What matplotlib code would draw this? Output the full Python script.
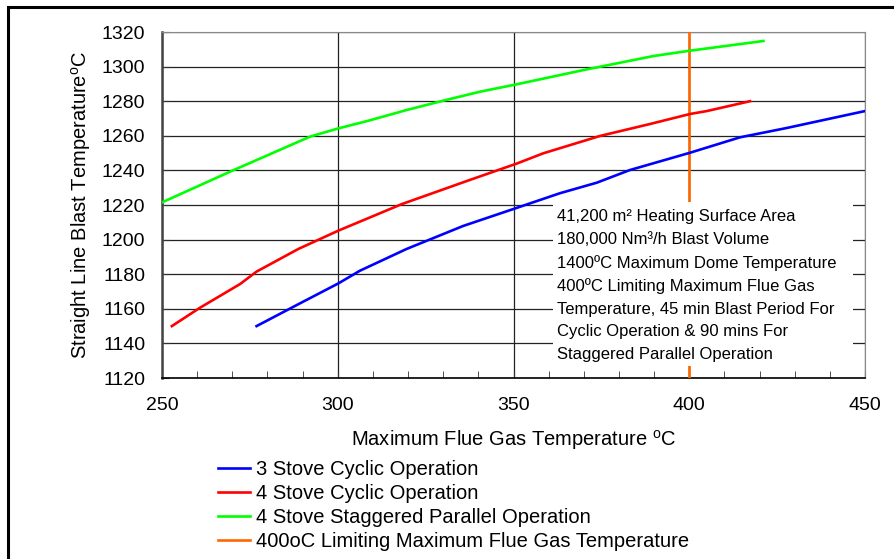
import matplotlib
matplotlib.use("Agg")
import matplotlib.pyplot as plt
from matplotlib.patches import Rectangle

plt.rcParams['font.family'] = ['Liberation Sans', 'DejaVu Sans']
plt.rcParams['mathtext.fontset'] = 'custom'
plt.rcParams['mathtext.rm'] = 'Liberation Sans'
plt.rcParams['mathtext.default'] = 'regular'

x_3cyc = [276.9, 289.3, 300.2, 306.3, 319.6, 335.7, 350.0, 363.2, 373.7, 383.1, 400.2, 414.4, 427.7, 450.0]
y_3cyc = [1150.0, 1163.2, 1174.7, 1182.0, 1194.6, 1207.9, 1217.7, 1226.8, 1232.9, 1240.2, 1250.2, 1259.1, 1264.5, 1274.3]

x_4cyc = [252.8, 260.8, 272.2, 276.9, 288.8, 300.2, 318.2, 337.6, 351.0, 358.5, 374.6, 388.8, 400.2, 405.0, 417.3]
y_4cyc = [1150.0, 1160.6, 1174.3, 1181.5, 1194.6, 1205.2, 1220.5, 1234.5, 1244.0, 1249.9, 1259.9, 1266.8, 1272.6, 1274.3, 1280.0]

x_4par = [250.0, 269.3, 292.1, 300.2, 308.7, 319.6, 330.0, 340.5, 351.0, 369.9, 389.8, 400.2, 421.1]
y_4par = [1221.5, 1239.2, 1259.5, 1264.3, 1268.7, 1274.9, 1280.3, 1285.5, 1289.8, 1298.0, 1306.1, 1309.2, 1314.8]

x_limit = [400, 400]
y_limit = [1120, 1320]

labels = ['3 Stove Cyclic Operation', '4 Stove Cyclic Operation',
          '4 Stove Staggered Parallel Operation',
          '400oC Limiting Maximum Flue Gas Temperature']

note = ("41,200 m\u00b2 Heating Surface Area\n"
        "180,000 Nm\u00b3/h Blast Volume\n"
        "1400\u00baC Maximum Dome Temperature\n"
        "400\u00baC Limiting Maximum Flue Gas\n"
        "Temperature, 45 min Blast Period For\n"
        "Cyclic Operation & 90 mins For\n"
        "Staggered Parallel Operation")

fig = plt.figure(figsize=(8.94, 5.59), dpi=100)
ax = fig.add_axes([162/894, 1-378/559, 703/894, 346/559])

l1, = ax.plot(x_3cyc, y_3cyc, color='#0000ff', lw=1.9, zorder=5)
l2, = ax.plot(x_4cyc, y_4cyc, color='#ff0000', lw=1.9, zorder=5)
l3, = ax.plot(x_4par, y_4par, color='#00ff00', lw=1.9, zorder=5)
l4, = ax.plot(x_limit, y_limit, color='#ff6600', lw=1.9, zorder=3)

ax.set_xlim(250, 450)
ax.set_ylim(1120, 1320)
ax.set_xticks(range(250, 451, 50))
ax.set_xticks(range(250, 451, 10), minor=True)
ax.set_yticks(range(1120, 1321, 20))
ax.grid(True, which='major', color='#222222', lw=0.9, zorder=1)
ax.set_axisbelow(True)
ax.tick_params(which='both', direction='in', labelsize=14, length=5, color='#333333')
ax.tick_params(axis='x', pad=14)
ax.tick_params(axis='y', pad=12)
for s in ['top', 'right']:
    ax.spines[s].set_color('#888888')
ax.spines['left'].set_color('#444444')
ax.spines['left'].set_linewidth(1.8)
ax.spines['bottom'].set_linewidth(1.2)

ax.set_xlabel('Maximum Flue Gas Temperature $^o$C', fontsize=14.5, labelpad=10)
ax.set_ylabel('Straight Line Blast Temperature$^o$C', fontsize=14.5, labelpad=6)

# white panel behind the note
ax.add_patch(Rectangle((0.556, 0.035), 0.427, 0.474, transform=ax.transAxes,
                       facecolor='white', edgecolor='none', zorder=4))
ax.text(0.562, 0.488, note, transform=ax.transAxes, ha='left', va='top',
        fontsize=12, linespacing=1.62, zorder=6)

fig.legend([l1, l2, l3, l4], labels, loc='upper left',
           bbox_to_anchor=(218/894, 1-460/559), frameon=False, fontsize=14.5,
           handlelength=1.6, handletextpad=0.3, labelspacing=0.25, borderpad=0,
           borderaxespad=0)

# outer frame
fig.add_artist(Rectangle((7.5/894, -0.2), 2, 1.2 - 6.5/559, transform=fig.transFigure,
                         fill=False, edgecolor='black', lw=2.2))

fig.savefig('out.png', dpi=100)
